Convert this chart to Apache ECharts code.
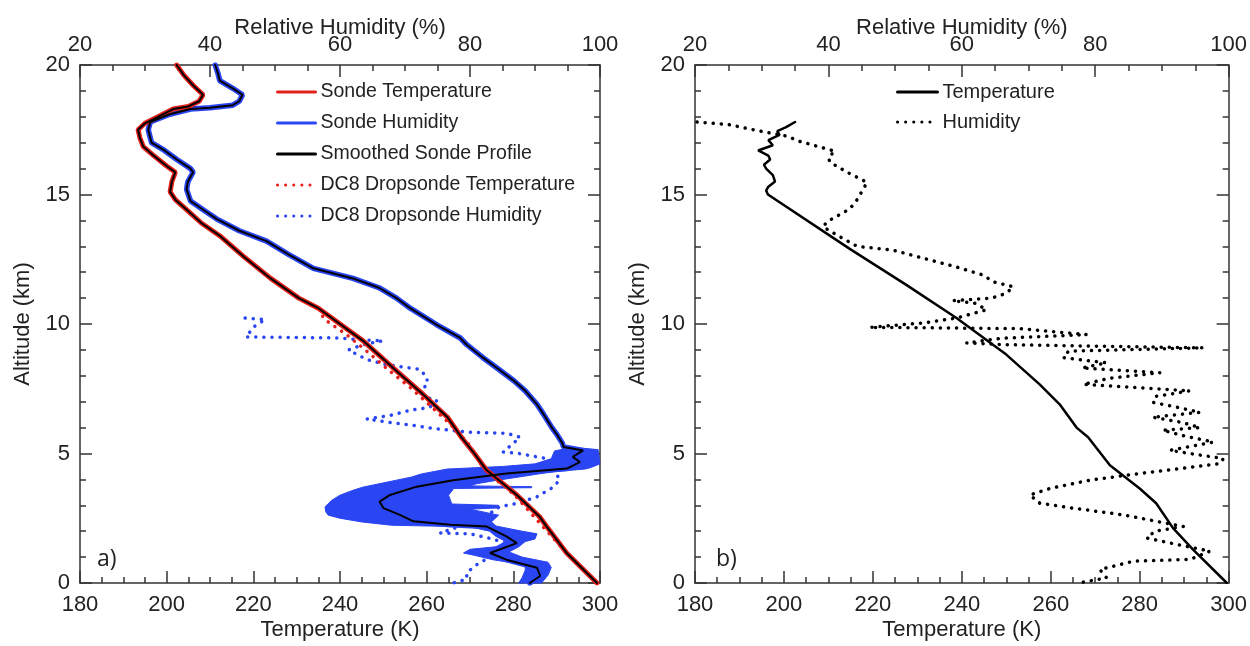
<!DOCTYPE html>
<html>
<head>
<meta charset="utf-8">
<title>Sonde profiles</title>
<script src="https://cdn.jsdelivr.net/npm/echarts@6/dist/echarts.min.js"></script>
<style>
  html, body { margin: 0; padding: 0; background: #fff; }
  #chart { width: 1250px; height: 646px; }
</style>
</head>
<body>
<div id="chart"></div>
<script>
// values, [altitude km, value], top of profile first
// panel a) sonde temperature (K)
var sondeTemp = [
  [20.0, 202.3], [19.6, 204.0], [19.2, 206.2], [18.85, 208.4], [18.6, 207.5],
  [18.4, 205.0], [18.3, 201.5], [18.0, 198.0], [17.75, 195.0], [17.5, 193.4],
  [17.2, 193.8], [16.85, 194.6], [16.5, 197.0], [16.1, 200.0], [15.86, 202.0],
  [15.5, 201.2], [15.1, 200.8], [14.8, 202.0], [14.4, 204.7], [13.9, 208.0],
  [13.4, 212.3], [12.6, 217.8], [11.76, 224.0], [11.0, 230.5], [10.61, 235.0],
  [10.0, 240.0], [9.34, 245.4], [8.18, 253.1], [7.28, 259.2], [6.4, 264.8],
  [5.63, 268.0], [5.0, 271.0], [4.36, 273.8], [3.4, 280.8], [2.57, 286.0],
  [2.18, 287.7], [1.16, 292.3], [0.0, 299.3]
];
// panel a) sonde relative humidity (%)
var sondeRH = [
  [20.0, 40.8], [19.7, 41.2], [19.4, 41.5], [19.1, 43.5], [18.85, 45.0],
  [18.6, 44.5], [18.45, 43.5], [18.35, 40.0], [18.3, 37.0], [18.1, 33.8],
  [17.8, 30.8], [17.5, 30.5], [17.2, 30.8], [17.0, 31.0], [16.7, 33.0],
  [16.35, 34.9], [16.0, 37.0], [15.86, 37.4], [15.5, 36.6], [15.2, 36.4],
  [14.75, 37.0], [14.4, 39.0], [14.06, 41.0], [13.6, 44.5], [13.2, 48.7],
  [12.7, 52.0], [12.15, 55.9], [11.76, 62.0], [11.4, 66.0], [11.0, 68.7],
  [10.61, 70.8], [9.97, 74.9], [9.46, 78.5], [9.2, 79.5], [8.7, 82.0],
  [8.31, 84.1], [7.8, 86.8], [7.42, 88.5], [6.9, 90.3], [6.52, 91.3],
  [6.0, 92.6], [5.76, 93.3], [5.4, 94.2], [5.25, 94.4], [5.12, 97.4],
  [5.06, 97.4], [4.87, 95.8], [4.67, 96.9], [4.42, 94.9], [4.23, 85.6],
  [3.97, 77.4], [3.72, 71.8], [3.4, 67.7], [3.14, 66.1], [2.89, 66.7],
  [2.63, 69.2], [2.38, 71.3], [2.25, 77.0], [2.18, 82.6], [1.8, 85.6],
  [1.54, 87.2], [1.16, 83.1], [0.9, 85.6], [0.59, 90.3], [0.27, 90.8],
  [0.0, 89.2]
];
// spread of the raw sonde humidity below 5 km (right and left edges)
var rhSpreadRight = [
  [5.2, 97.5], [5.15, 99.7], [4.6, 100.0], [4.45, 98.5], [4.4, 97.7],
  [4.3, 93.0], [4.21, 90.5], [4.09, 87.5], [3.96, 84.0], [3.83, 81.0],
  [3.75, 80.0], [3.72, 89.5], [3.68, 89.5], [3.65, 77.5], [3.39, 76.7],
  [3.19, 77.0], [3.05, 77.2], [3.0, 84.4], [2.9, 84.4], [2.85, 80.0],
  [2.62, 84.4], [2.36, 83.3], [2.2, 84.0], [2.0, 88.0], [1.9, 90.3],
  [1.7, 90.0], [1.6, 88.5], [1.4, 87.5], [1.2, 86.0], [1.0, 88.0],
  [0.8, 92.0], [0.6, 92.5], [0.3, 92.0], [0.0, 91.0]
];
var rhSpreadLeft = [
  [5.2, 95.0], [5.1, 93.0], [4.8, 92.5], [4.6, 90.0], [4.5, 85.0],
  [4.4, 76.5], [4.21, 72.5], [4.09, 71.0], [3.96, 68.5], [3.83, 66.0],
  [3.7, 63.5], [3.58, 62.0], [3.39, 60.0], [3.19, 58.7], [2.94, 57.7],
  [2.75, 57.8], [2.62, 58.2], [2.5, 60.0], [2.36, 63.3], [2.23, 67.9],
  [2.17, 80.0], [2.0, 83.0], [1.8, 84.0], [1.6, 85.5], [1.4, 84.0],
  [1.3, 80.0], [1.16, 79.0], [1.05, 81.0], [0.9, 83.5], [0.7, 88.5],
  [0.5, 88.5], [0.2, 88.0], [0.0, 87.5]
];
// panel a) DC8 dropsonde
var dropTemp = [
  [10.3, 236.0], [10.17, 236.5], [9.59, 241.5], [8.95, 246.2], [8.18, 251.5],
  [7.55, 256.2], [6.85, 260.8], [6.14, 265.4], [5.31, 270.0], [4.36, 273.3],
  [3.4, 280.3], [2.18, 286.8], [1.03, 293.0], [0.0, 299.5]
];
var dropRH = [
  [10.23, 45.4], [10.17, 48.5], [9.95, 47.0], [9.5, 45.5], [9.46, 45.7],
  [9.46, 60.0], [9.4, 62.6], [9.35, 66.6], [9.2, 63.5], [9.0, 61.3],
  [8.63, 64.1], [8.43, 67.2], [8.3, 70.8], [8.25, 72.3], [7.93, 73.4],
  [7.62, 73.4], [7.43, 71.8], [7.16, 73.4], [7.05, 74.9], [6.78, 73.8],
  [6.67, 70.8], [6.47, 67.7], [6.33, 64.1], [6.2, 67.7], [6.1, 70.8],
  [5.95, 74.9], [5.82, 80.0], [5.78, 85.7], [5.63, 87.7], [5.38, 86.6],
  [5.06, 85.1], [5.0, 87.5], [4.8, 91.8], [4.6, 92.5], [3.98, 93.8],
  [3.7, 92.8], [3.33, 90.3], [3.07, 87.2], [2.95, 84.6], [2.5, 82.0],
  [1.93, 75.4], [1.9, 80.0], [1.7, 83.5], [1.45, 86.5], [1.2, 85.0],
  [1.0, 83.0], [0.7, 81.0], [0.4, 79.5], [0.15, 79.5], [0.0, 77.4]
];
// panel b)
var bTemp = [
  [17.8, 202.5], [17.75, 202.3], [17.6, 200.5], [17.45, 198.5], [17.3, 199.0],
  [17.1, 196.5], [16.9, 197.5], [16.7, 194.2], [16.5, 196.5], [16.35, 196.9],
  [16.15, 195.5], [16.0, 196.0], [15.75, 197.5], [15.5, 198.0], [15.3, 196.5],
  [15.15, 196.0], [15.0, 196.4], [12.9, 214.8], [11.5, 227.6], [10.23, 238.8],
  [8.82, 250.0], [7.67, 257.5], [6.9, 262.0], [6.0, 265.8], [5.63, 268.4],
  [4.55, 273.3], [3.65, 280.0], [3.08, 283.7], [2.12, 287.5], [1.29, 292.0],
  [0.0, 299.6]
];
var bRH = [
  [17.8, 20.3], [17.7, 25.0], [17.45, 29.7], [17.25, 33.8], [17.05, 35.7],
  [16.8, 39.2], [16.67, 41.0], [16.45, 40.0], [16.25, 40.2], [15.86, 42.8],
  [15.47, 45.8], [14.8, 44.3], [14.44, 43.2], [13.95, 39.8], [13.75, 39.2],
  [13.4, 41.5], [13.0, 44.3], [12.85, 49.7], [12.5, 54.8], [12.2, 59.2],
  [11.89, 63.2], [11.63, 64.7], [11.44, 67.7], [11.19, 66.7], [11.0, 64.5],
  [10.9, 58.6], [10.8, 62.0], [10.55, 63.7], [10.23, 59.2], [10.04, 54.2],
  [9.87, 46.2], [9.85, 56.0], [9.82, 68.7], [9.59, 78.7], [9.45, 66.0],
  [9.27, 60.7], [9.2, 66.7], [9.08, 96.2], [8.95, 76.0], [8.7, 75.2],
  [8.5, 81.7], [8.3, 78.0], [8.12, 89.7], [7.9, 82.0], [7.67, 78.2],
  [7.42, 94.2], [7.2, 89.0], [6.97, 88.7], [6.8, 92.0], [6.59, 95.7],
  [6.4, 88.6], [6.2, 93.0], [6.0, 95.7], [5.9, 90.1], [5.7, 93.0],
  [5.44, 97.7], [5.12, 91.2], [4.8, 99.2], [4.61, 98.7], [4.23, 86.7],
  [3.97, 79.2], [3.65, 73.2], [3.4, 70.2], [3.08, 71.7], [2.89, 76.7],
  [2.63, 84.2], [2.38, 89.2], [2.18, 93.2], [2.0, 89.0], [1.74, 87.7],
  [1.5, 92.0], [1.23, 97.2], [0.91, 94.2], [0.84, 85.7], [0.52, 80.7],
  [0.2, 81.7], [0.01, 77.7]
];

var FONT = "'Liberation Sans', Arial, Helvetica, sans-serif";
var INK = '#222';
var RED = '#e3201b';
var BLUE = '#2a45f2';
var DOTS = [0.1, 8];

// flip [alt, v] -> [v, alt] so the value sits on the x axis
function xy(list) {
  return list.map(function (p) { return [p[1], p[0]]; });
}

function frameStyle() {
  return {
    axisLine: { show: true, onZero: false, lineStyle: { color: '#333', width: 1.5 } },
    axisTick: { show: true, inside: true, length: 12, lineStyle: { color: '#333', width: 1.5 } },
    minorTick: { show: true, length: 6, lineStyle: { color: '#333', width: 1.5 } },
    splitLine: { show: false },
    minorSplitLine: { show: false },
    nameMoveOverlap: false
  };
}

function tempAxis(gi) {
  var a = frameStyle();
  a.minorTick.splitNumber = 4;
  return Object.assign(a, {
    type: 'value', gridIndex: gi, position: 'bottom', min: 180, max: 300, interval: 20,
    name: 'Temperature (K)', nameLocation: 'middle', nameGap: 36,
    nameTextStyle: { fontSize: 22, color: INK, fontFamily: FONT },
    axisLabel: { fontSize: 22, color: INK, fontFamily: FONT, margin: 11 }
  });
}
function rhAxis(gi) {
  var a = frameStyle();
  a.minorTick.splitNumber = 4;
  return Object.assign(a, {
    type: 'value', gridIndex: gi, position: 'top', min: 20, max: 100, interval: 20,
    name: 'Relative Humidity (%)', nameLocation: 'middle', nameGap: 26,
    nameTextStyle: { fontSize: 22, color: INK, fontFamily: FONT },
    axisLabel: { fontSize: 22, color: INK, fontFamily: FONT, margin: 9 }
  });
}
function altAxis(gi, right) {
  var a = frameStyle();
  a.minorTick.splitNumber = 5;
  Object.assign(a, {
    type: 'value', gridIndex: gi, position: right ? 'right' : 'left',
    min: 0, max: 20, interval: 5
  });
  if (right) {
    a.axisLabel = { show: false };
  } else {
    a.name = 'Altitude (km)';
    a.nameLocation = 'middle';
    a.nameGap = 46;
    a.nameTextStyle = { fontSize: 22, color: INK, fontFamily: FONT };
    a.axisLabel = { fontSize: 22, color: INK, fontFamily: FONT, margin: 10 };
  }
  return a;
}

function line(name, data, xi, yi, color, width, dash, z) {
  return {
    name: name, type: 'line', data: data, xAxisIndex: xi, yAxisIndex: yi,
    showSymbol: false, symbol: 'none', smooth: false, z: z, silent: true,
    lineStyle: { color: color, width: width, type: dash || 'solid', cap: 'round' },
    itemStyle: { color: color }
  };
}

var chart = echarts.init(document.getElementById('chart'));

var option = {
  backgroundColor: '#fff',
  animation: false,
  textStyle: { fontFamily: FONT },
  grid: [
    { left: 80, top: 65, width: 520, height: 522 },
    { left: 695, top: 65, width: 534, height: 522 }
  ],
  xAxis: [tempAxis(0), rhAxis(0), tempAxis(1), rhAxis(1)],
  yAxis: [altAxis(0, false), altAxis(0, true), altAxis(1, false), altAxis(1, true)],
  legend: [
    {
      data: ['Sonde Temperature', 'Sonde Humidity', 'Smoothed Sonde Profile',
             'DC8 Dropsonde Temperature', 'DC8 Dropsonde Humidity'],
      orient: 'vertical', left: 271, top: 77, itemWidth: 38, itemHeight: 14, itemGap: 11,
      selectedMode: false,
      itemStyle: { opacity: 0 },
      lineStyle: { width: 3 },
      textStyle: { fontSize: 19.5, color: INK, fontFamily: FONT, lineHeight: 20 }
    },
    {
      data: ['Temperature', 'Humidity'],
      orient: 'vertical', left: 891, top: 77, itemWidth: 40, itemHeight: 14, itemGap: 10,
      selectedMode: false,
      itemStyle: { opacity: 0 },
      lineStyle: { width: 3 },
      textStyle: { fontSize: 20, color: INK, fontFamily: FONT, lineHeight: 20 }
    }
  ],
  graphic: [
    { type: 'text', left: 97, top: 548, style: { text: 'a)', fontSize: 23, fill: INK, fontFamily: "'Open Sans', " + FONT } },
    { type: 'text', left: 716, top: 548, style: { text: 'b)', fontSize: 23, fill: INK, fontFamily: "'Open Sans', " + FONT } }
  ],
  series: [
    line('DC8 Dropsonde Humidity', xy(dropRH), 1, 0, BLUE, 3.5, DOTS, 2),
    line('DC8 Dropsonde Temperature', xy(dropTemp), 0, 0, RED, 3.5, DOTS, 2),
    {
      name: 'raw humidity spread', type: 'custom', xAxisIndex: 1, yAxisIndex: 0, z: 3,
      silent: true, data: [[60, 3]],
      renderItem: function (params, api) {
        var pts = rhSpreadRight.map(function (p) { return api.coord([p[1], p[0]]); });
        var back = rhSpreadLeft.slice().reverse().map(function (p) { return api.coord([p[1], p[0]]); });
        return {
          type: 'polygon',
          shape: { points: pts.concat(back) },
          style: { fill: BLUE, stroke: BLUE, lineWidth: 1 }
        };
      }
    },
    line('Sonde Humidity', xy(sondeRH), 1, 0, BLUE, 5.5, 'solid', 4),
    line('Sonde Temperature', xy(sondeTemp), 0, 0, RED, 5, 'solid', 4),
    line('Smoothed Sonde Profile', xy(sondeRH), 1, 0, '#000', 2, 'solid', 5),
    line('Smoothed Sonde Profile', xy(sondeTemp), 0, 0, '#000', 2, 'solid', 5),
    line('Temperature', xy(bTemp), 2, 2, '#000', 2.5, 'solid', 4),
    line('Humidity', xy(bRH), 3, 2, '#000', 3.5, DOTS, 4)
  ]
};

chart.setOption(option);
window.addEventListener('resize', function () { chart.resize(); });
</script>
</body>
</html>
